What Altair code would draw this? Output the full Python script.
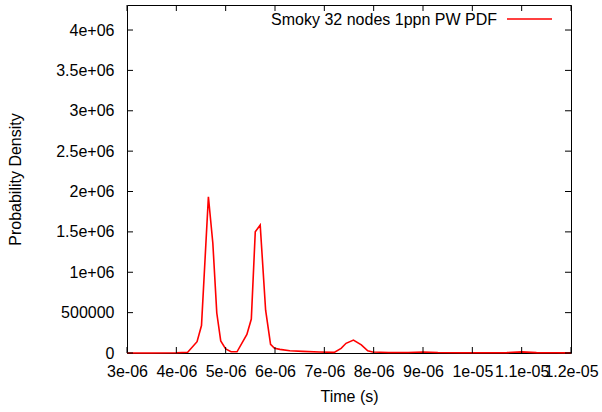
import altair as alt
import pandas as pd

# Data (time in seconds, density)
time_us = [3.00, 3.50, 4.00, 4.23, 4.42, 4.51, 4.65, 4.74, 4.82, 4.90, 5.00, 5.11, 5.23,
           5.43, 5.52, 5.60, 5.70, 5.81, 5.91, 5.99, 6.10, 6.30, 6.56, 6.90, 7.20,
           7.34, 7.44, 7.59, 7.75, 7.88, 7.98, 8.30, 8.70, 9.00, 9.30, 9.80, 10.30,
           10.70, 11.00, 11.30, 11.70, 12.00]
density = [0, 0, 3000, 10000, 140000, 340000, 1935000, 1360000, 495000, 149000, 50000, 16000, 15000,
           230000, 420000, 1500000, 1585000, 530000, 108000, 58000, 45000, 28000, 20000, 12000, 8000,
           58000, 120000, 160000, 100000, 28000, 12000, 6000, 6000, 12000, 6000, 4000, 3000,
           5000, 14000, 5000, 3000, 2000]

x_ticks = [3e-06, 4e-06, 5e-06, 6e-06, 7e-06, 8e-06, 9e-06, 1e-05, 1.1e-05, 1.2e-05]
x_labels = ["3e-06", "4e-06", "5e-06", "6e-06", "7e-06", "8e-06", "9e-06", "1e-05", "1.1e-05", "1.2e-05"]
y_ticks = [0, 500000, 1000000, 1500000, 2000000, 2500000, 3000000, 3500000, 4000000]
y_labels = ["0", "500000", "1e+06", "1.5e+06", "2e+06", "2.5e+06", "3e+06", "3.5e+06", "4e+06"]

legend_label = "Smoky 32 nodes 1ppn PW PDF"
x_title = "Time (s)"
y_title = "Probability Density"

W, H = 444, 348
FONT = "Liberation Sans"
FS = 16

df = pd.DataFrame({"t": [v * 1e-6 for v in time_us], "d": density})
xt = pd.DataFrame({"t": x_ticks})
yt = pd.DataFrame({"d": y_ticks})

x_scale = alt.Scale(domain=[3e-06, 1.2e-05], nice=False, zero=False)
y_scale = alt.Scale(domain=[0, 4310000], nice=False)

x_expr = "[" + ",".join("'%s'" % s for s in x_labels) + "][round(datum.value*1e6)-3]"
y_expr = "[" + ",".join("'%s'" % s for s in y_labels) + "][round(datum.value/500000)]"

line = alt.Chart(df).mark_line(color="#ff0000", strokeWidth=1.6).encode(
    x=alt.X("t:Q", scale=x_scale,
            axis=alt.Axis(values=x_ticks, labelExpr=x_expr, tickSize=0, domain=False, grid=False,
                          labelPadding=10, title=x_title, titlePadding=9,
                          labelFont=FONT, labelFontSize=FS, titleFont=FONT, titleFontSize=FS,
                          titleFontWeight="normal", labelColor="black", titleColor="black",
                          labelFlush=False, labelOverlap=False)),
    y=alt.Y("d:Q", scale=y_scale,
            axis=alt.Axis(values=y_ticks, labelExpr=y_expr, tickSize=0, domain=False, grid=False,
                          labelPadding=13, title=y_title, titlePadding=32,
                          labelFont=FONT, labelFontSize=FS, titleFont=FONT, titleFontSize=FS,
                          titleFontWeight="normal", labelColor="black", titleColor="black",
                          labelFlush=False, labelOverlap=False)),
)

TL = 6
bottom_ticks = alt.Chart(xt).mark_rule(color="black", strokeWidth=1).encode(
    x=alt.X("t:Q", scale=x_scale), y=alt.value(H), y2=alt.value(H - TL))
top_ticks = alt.Chart(xt).mark_rule(color="black", strokeWidth=1).encode(
    x=alt.X("t:Q", scale=x_scale), y=alt.value(0), y2=alt.value(TL))
left_ticks = alt.Chart(yt).mark_rule(color="black", strokeWidth=1).encode(
    y=alt.Y("d:Q", scale=y_scale), x=alt.value(0), x2=alt.value(TL))
right_ticks = alt.Chart(yt).mark_rule(color="black", strokeWidth=1).encode(
    y=alt.Y("d:Q", scale=y_scale), x=alt.value(W), x2=alt.value(W - TL))

leg_df = pd.DataFrame({"label": [legend_label]})
leg_text = alt.Chart(leg_df).mark_text(align="right", baseline="middle", font=FONT,
                                       fontSize=FS, color="black").encode(
    text="label:N", x=alt.value(370), y=alt.value(15))
leg_line = alt.Chart(leg_df).mark_rule(color="#ff0000", strokeWidth=1.6).encode(
    x=alt.value(380), x2=alt.value(425), y=alt.value(14))

chart = alt.layer(line, bottom_ticks, top_ticks, left_ticks, right_ticks, leg_text, leg_line).properties(
    width=W, height=H,
    autosize=alt.AutoSizeParams(type="none"),
    padding={"left": 127, "top": 5, "right": 31, "bottom": 59},
    background="white",
).configure_view(stroke="black", strokeWidth=1)

chart.save("out.html", embed_options={"renderer": "svg", "actions": False})
